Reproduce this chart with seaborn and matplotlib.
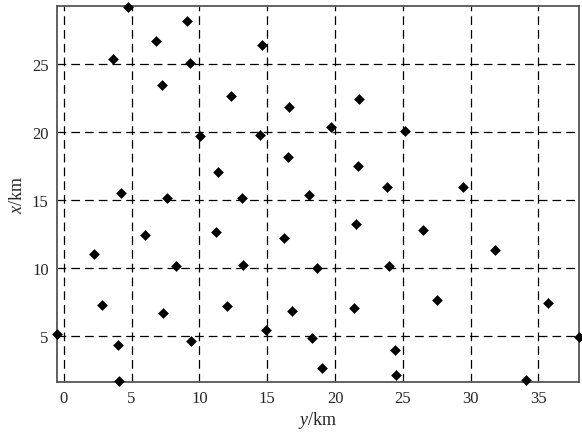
import matplotlib
matplotlib.use("Agg")
import matplotlib.pyplot as plt
import seaborn as sns
import pandas as pd

# station positions (y/km horizontal, x/km vertical)
y_km = [4.72, 9.09, 6.78, 3.66, 9.31, 7.27, 12.36, 14.59, 16.58, 10.02,
        14.47, 16.56, 11.37, 4.20, 7.61, 13.17, 21.79, 19.68, 25.15, 21.72,
        18.10, 23.85, 29.43, 5.99, 2.23, 11.23, 8.30, 13.24, 16.24, 2.85,
        7.30, 12.04, 16.85, -0.47, 4.00, 9.38, 14.91, 4.05, 21.54, 26.48,
        31.83, 18.67, 23.98, 21.37, 27.51, 35.69, 18.30, 24.42, 37.98, 19.01,
        24.51, 34.12]
x_km = [29.20, 28.18, 26.67, 25.37, 25.07, 23.46, 22.65, 26.42, 21.86, 19.71,
        19.78, 18.18, 17.08, 15.54, 15.17, 15.17, 22.44, 20.35, 20.07, 17.48,
        15.35, 16.00, 16.00, 12.43, 11.08, 12.70, 10.17, 10.24, 12.23, 7.28,
        6.71, 7.21, 6.86, 5.17, 4.34, 4.66, 5.44, 1.69, 13.24, 12.82,
        11.35, 10.05, 10.15, 7.08, 7.70, 7.48, 4.90, 4.02, 4.95, 2.63,
        2.15, 1.76]
x_ticks = [0, 5, 10, 15, 20, 25, 30, 35]
y_ticks = [5, 10, 15, 20, 25]

df = pd.DataFrame({"y": y_km, "x": x_km})

sns.set_style("white")
plt.rcParams["font.family"] = ["Liberation Serif", "DejaVu Serif"]
plt.rcParams["mathtext.fontset"] = "custom"
plt.rcParams["mathtext.it"] = "Liberation Serif:italic"
plt.rcParams["mathtext.rm"] = "Liberation Serif"

fig = plt.figure(figsize=(5.82, 4.35), dpi=100)
ax = fig.add_axes([0.098, 0.120, 0.897, 0.863])

sns.scatterplot(data=df, x="y", y="x", marker="D", s=30, color="black",
                edgecolor="black", linewidth=0, ax=ax, clip_on=False, zorder=3)

ax.set_xlim(-0.5, 38)
ax.set_ylim(1.65, 29.25)
ax.set_xticks(x_ticks)
ax.set_yticks(y_ticks)
ax.grid(True, color="black", linestyle=(0, (7, 4)), linewidth=0.9)
ax.tick_params(length=0, labelsize=12, pad=6)
for sp in ax.spines.values():
    sp.set_color("#555555")
    sp.set_linewidth(1.3)

ax.set_xlabel("$y$/km", fontsize=13, labelpad=2)
ax.set_ylabel("$x$/km", fontsize=13, labelpad=4)

fig.savefig("out.png", dpi=100)
